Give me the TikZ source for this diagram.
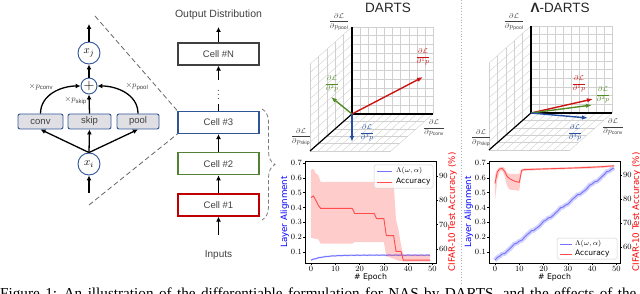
\documentclass[tikz,border=0pt]{standalone}
\usepackage{fontspec}
\setmainfont{Liberation Sans}
\newfontfamily\plotfont{DejaVu Sans}
\newfontfamily\capfont{Liberation Serif}
\usepackage{xcolor}
\definecolor{cellblue}{RGB}{47,85,151}
\definecolor{cellgreen}{RGB}{84,130,53}
\definecolor{cellred}{RGB}{192,0,0}
\definecolor{ink}{RGB}{64,64,64}
\definecolor{opgray}{RGB}{224,224,228}
\definecolor{gridgray}{RGB}{208,208,208}
\definecolor{gradred}{RGB}{204,18,18}
\definecolor{gradgreen}{RGB}{84,140,40}
\definecolor{gradblue}{RGB}{38,78,158}
\definecolor{mplblue}{RGB}{0,0,255}
\definecolor{mplred}{RGB}{255,0,0}
\usepackage{tikz}
\usetikzlibrary{arrows.meta,positioning,calc,decorations.pathreplacing}
\usepackage{pgfplots}
\pgfplotsset{compat=1.18}
\tikzset{
  arr/.style={-{Latex[length=5pt,width=5pt]}, line width=1.3pt, black},
  state/.style={circle, draw=cellblue, line width=0.9pt, fill=white,
    minimum size=22pt, inner sep=0pt, font=\fontsize{11}{12}\selectfont},
  sumnode/.style={circle, draw=cellblue, line width=0.9pt, fill=white,
    minimum size=16pt, inner sep=0pt, font=\fontsize{15}{15}\selectfont},
  opbox/.style={rectangle, rounded corners=2pt, draw=cellblue, line width=0.9pt,
    fill=opgray, minimum height=15pt, inner sep=0pt, text=ink,
    font=\fontsize{9.5}{10}\selectfont},
  wlabel/.style={font=\fontsize{8}{9}\selectfont, inner sep=0pt, text=ink},
  cellbox/.style={rectangle, line width=1.3pt, minimum width=81pt,
    minimum height=22pt, inner sep=0pt, text=ink, font=\fontsize{9.5}{10}\selectfont},
  plain/.style={inner sep=0pt, text=ink, font=\fontsize{10.5}{11}\selectfont},
  zoomline/.style={dash pattern=on 5pt off 3pt, draw=ink!80, line width=0.8pt},
  bracket/.style={decorate, decoration={brace, amplitude=13pt},
    dash pattern=on 4pt off 2.5pt, draw=ink!70, line width=0.8pt},
  gridline/.style={draw=gridgray, line width=0.4pt},
  axisline/.style={draw=black, line width=1.2pt},
  grad/.style={-{Latex[length=6pt,width=4.5pt]}, line width=1.4pt},
  gradlabel/.style={font=\fontsize{7}{8}\selectfont, inner sep=0pt},
  paneltitle/.style={inner sep=0pt, font=\fontsize{13.5}{14}\selectfont, text=black!85},
  sepline/.style={draw=gray!60, dotted, line width=0.8pt},
  legframe/.style={draw=gray!35, fill=white, fill opacity=0.8, rounded corners=1.5pt, line width=0.5pt},
  legtext/.style={inner sep=0pt, anchor=west, font=\plotfont\fontsize{7.5}{8}\selectfont},
  lineblue/.style={mplblue!55, line width=0.9pt},
  linered/.style={mplred!70, line width=0.9pt},
  bandred/.style={fill=mplred, fill opacity=0.2, draw=none},
}
\pgfplotsset{
  alignplot/.style={
    scale only axis, width=131pt, height=102pt,
    xmin=-2.45, xmax=51.45, ymin=0.026, ymax=0.7135,
    xtick={0,10,20,30,40,50},
    ytick={0.1,0.2,0.3,0.4,0.5,0.6,0.7},
    yticklabel style={/pgf/number format/.cd, fixed, precision=1, fixed zerofill},
    xtick pos=left, ytick pos=left,
    tick align=outside, major tick length=2pt,
    tick style={black, line width=0.6pt},
    axis line style={black, line width=0.6pt},
    every tick label/.style={font=\plotfont\fontsize{7.8}{8}\selectfont, inner sep=1pt},
    xlabel={\# Epoch}, ylabel={Layer Alignment},
    every axis x label/.style={at={(axis description cs:0.5,-0.14)}, anchor=center,
      font=\plotfont\fontsize{7.8}{8}\selectfont},
    every axis y label/.style={at={(axis description cs:-0.155,0.5)}, anchor=center,
      rotate=90, text=mplblue, font=\plotfont\fontsize{8.7}{9}\selectfont},
  },
  accplot/.style={
    scale only axis, width=131pt, height=102pt,
    xmin=-2.45, xmax=51.45,
    axis x line=none, axis y line*=right,
    ytick={60,70,80,90},
    tick align=outside, major tick length=2pt,
    tick style={black, line width=0.6pt},
    axis line style={black, line width=0.6pt},
    every tick label/.style={font=\plotfont\fontsize{7.8}{8}\selectfont, inner sep=1pt},
    ylabel={CIFAR-10 Test Accuracy (\%)},
    every axis y label/.style={at={(axis description cs:1.125,0.5)}, anchor=center,
      rotate=90, text=mplred, font=\plotfont\fontsize{8.7}{9}\selectfont},
  },
}
\newcommand{\gradfrac}[1]{$\displaystyle\frac{\partial\mathcal{L}}{\partial #1}$}
\newcommand{\gradframe}{%
  \foreach \i in {0,...,10}{
    \draw[gridline] (\i*8.1,0) -- (\i*8.1,-87);
    \draw[gridline] (0,-\i*8.7) -- (81,-\i*8.7);
    \draw[gridline] (0,-\i*8.7) -- ++(-42,37);
    \draw[gridline] (\i*8.1,0) -- ++(-42,37);
  }
  \foreach \k in {1,...,5}{
    \draw[gridline] (-\k*8.4,\k*7.4) -- ++(0,-87);
    \draw[gridline] (-\k*8.4,\k*7.4) -- ++(81,0);
  }
  \draw[axisline] (0,-87) -- (0,0) -- (81,0);
  \draw[axisline] (0,0) -- (-42,37);
}

\begin{document}
\begin{tikzpicture}
  \path[use as bounding box, clip] (0pt,0pt) rectangle (640pt,-294pt);
  \begin{scope}[x=1pt,y=-1pt]
  %% one cell: mixed operation between x_i and x_j
  \node[state] (xi) at (89,164) {$x_i$};
  \node[state] (xj) at (89,53) {$x_j$};
  \node[sumnode] (sum) at (89,86) {$+$};
  \node[opbox, minimum width=45pt] (conv) at (40.5,121.5) {conv};
  \node[opbox, minimum width=43pt] (skip) at (89.5,121.5) {skip};
  \node[opbox, minimum width=42pt] (pool) at (138,121.5) {pool};
  \coordinate (cellin) at (89,193);
  \coordinate (cellout) at (89,24);
  \draw[arr] (cellin) -- (xi);
  \draw[arr] (xi.north) -- (conv.south);
  \draw[arr] (xi.north) -- (skip.south);
  \draw[arr] (xi.north) -- (pool.south);
  \draw[arr] (conv.north) to[out=90,in=180] (sum.west);
  \draw[arr] (skip.north) -- (sum.south);
  \draw[arr] (pool.north) to[out=90,in=0] (sum.east);
  \draw[arr] (sum.north) -- (xj.south);
  \draw[arr] (xj.north) -- (cellout);
  \node[wlabel] (wconv) at (41,87) {$\times p_{\mathrm{conv}}$};
  \node[wlabel, anchor=east] (wskip) at (87,101) {$\times p_{\mathrm{skip}}$};
  \node[wlabel] (wpool) at (137,87) {$\times p_{\mathrm{pool}}$};

  %% stack of cells
  \node[cellbox, draw=cellred] (cell1) at (218.5,205) {Cell \#1};
  \node[cellbox, draw=cellgreen, above=18pt of cell1] (cell2) {Cell \#2};
  \node[cellbox, draw=cellblue, above=18pt of cell2] (cell3) {Cell \#3};
  \node[inner sep=0pt, minimum height=24pt, text=ink] (dots) at (218.5,92) {$\vdots$};
  \node[cellbox, draw=ink] (celln) at (218.5,54) {Cell \#N};
  \node[plain] (outd) at (218.5,15) {Output Distribution};
  \node[plain, font=\fontsize{10}{11}\selectfont] (inputs) at (218.5,255) {Inputs};
  \coordinate (netin) at (218.5,235);
  \coordinate (netout) at (218.5,27);
  \draw[arr] (netin) -- (cell1);
  \draw[arr] (cell1) -- (cell2);
  \draw[arr] (cell2) -- (cell3);
  \draw[line width=1.3pt] (cell3.north) -- (dots.south);
  \draw[arr] (dots.north) -- (celln.south);
  \draw[arr] (celln.north) -- (netout);
  \coordinate (zoomtop) at (95,16);
  \coordinate (zoombot) at (89,205);
  \draw[zoomline] (zoomtop) -- (cell3.north west);
  \draw[zoomline] (zoombot) -- (cell3.south west);
  \coordinate (bracetop) at (262,109);
  \coordinate (bracebot) at (262,220);
  \draw[bracket] (bracetop) -- (bracebot);

  %% gradient directions
  \node[paneltitle] (tdarts) at (388,8) {DARTS};
  \node[paneltitle] (tlambda) at (560,8) {\textbf{Λ}-DARTS};
  \draw[sepline] (461,0) -- (461,283);
  \begin{scope}[shift={(352,114)}]
    \gradframe
    \coordinate (dO) at (0,0);
    \coordinate (dR) at (71,-37);
    \coordinate (dG) at (-21,-17);
    \coordinate (dB) at (0,28);
    \draw[grad, gradred] (dO) -- (dR);
    \draw[grad, gradgreen] (dO) -- (dG);
    \draw[grad, gradblue] (dO) -- (dB);
    \node[gradlabel, text=gradred] (dRl) at (71,-57) {\gradfrac{^{1}p}};
    \node[gradlabel, text=gradgreen] (dGl) at (-20,-30) {\gradfrac{^{2}p}};
    \node[gradlabel, text=gradblue] (dBl) at (15,19) {\gradfrac{^{3}p}};
    \node[gradlabel, text=ink] (dpool) at (-13,-92) {\gradfrac{p_{\mathrm{pool}}}};
    \node[gradlabel, text=ink] (dconv) at (82,14) {\gradfrac{p_{\mathrm{conv}}}};
    \node[gradlabel, text=ink] (dskip) at (-51,23) {\gradfrac{p_{\mathrm{skip}}}};
  \end{scope}
  \begin{scope}[shift={(531,113)}]
    \gradframe
    \coordinate (lO) at (0,0);
    \coordinate (lR) at (62,-14);
    \coordinate (lG) at (61,-8);
    \coordinate (lB) at (57,5);
    \draw[grad, gradred] (lO) -- (lR);
    \draw[grad, gradgreen] (lO) -- (lG);
    \draw[grad, gradblue] (lO) -- (lB);
    \node[gradlabel, text=gradred] (lRl) at (48,-29) {\gradfrac{^{1}p}};
    \node[gradlabel, text=gradgreen] (lGl) at (72,-18) {\gradfrac{^{2}p}};
    \node[gradlabel, text=gradblue] (lBl) at (44,20) {\gradfrac{^{3}p}};
    \node[gradlabel, text=ink] (lpool) at (-17,-91) {\gradfrac{p_{\mathrm{pool}}}};
    \node[gradlabel, text=ink] (lconv) at (82,14) {\gradfrac{p_{\mathrm{conv}}}};
    \node[gradlabel, text=ink] (lskip) at (-50,25) {\gradfrac{p_{\mathrm{skip}}}};
  \end{scope}
  \end{scope}

  %% layer alignment and accuracy, DARTS
  \begin{axis}[alignplot, at={(305pt,-263pt)}, anchor=south west]
    \addplot[mplblue, draw opacity=0.18, line width=1.6pt, domain=0:49, samples=50]
      {0.079-0.034*exp(-x/5)+0.0015*sin(137*x)};
    \addplot[lineblue, domain=0:49, samples=50]
      {0.079-0.034*exp(-x/5)+0.0015*sin(137*x)};
  \end{axis}
  \begin{axis}[accplot, at={(305pt,-263pt)}, anchor=south west, ymin=54.2, ymax=96.2]
    \addplot[bandred] coordinates {(0,92.5) (1,93) (2,91) (3,90.5) (4,87.6)
      (34,87.6) (35,72) (36,68) (37,62) (38,57.5) (49,57.5) (49,54.8) (38,54.8)
      (37,55) (36,55.2) (35,55.5) (34,56) (31,57) (30,62.8) (18,62.8) (17,62.2)
      (4,62.2) (3,64) (0,64.5)};
    \addplot[linered] coordinates {(0,81.2) (1,81.8) (2,80) (3,78) (4,76.7)
      (17,76.7) (18,74.6) (26,74.6) (27,72.5) (30,72.5) (31,65.5) (34,65.5)
      (35,59) (37,59) (38,55.4) (49,55.4)};
  \end{axis}

  %% layer alignment and accuracy, Lambda-DARTS
  \begin{axis}[alignplot, at={(489pt,-263pt)}, anchor=south west]
    \addplot[mplblue, draw opacity=0.18, line width=4.5pt, domain=0:49, samples=50]
      {0.045+0.0128*x+0.005*sin(57*x)+0.003*sin(151*x)};
    \addplot[lineblue, domain=0:49, samples=50]
      {0.045+0.0128*x+0.005*sin(57*x)+0.003*sin(151*x)};
  \end{axis}
  \begin{axis}[accplot, at={(489pt,-263pt)}, anchor=south west, ymin=53.4, ymax=95.9]
    \addplot[bandred] coordinates {(0,90) (1,92.5) (2,93.3) (3,93.6) (4,93)
      (5,91) (6,90.5) (10,90.5) (11,92.6) (12,92.8) (20,93) (30,93.3) (40,93.8)
      (45,94) (49,94.3) (49,93.5) (45,93.1) (40,92.8) (30,92.5) (20,92.2)
      (12,91.8) (11,91.4) (10,83.5) (6,84) (5,85.5) (4,89.5) (3,92) (2,91.5)
      (1,88) (0,79.5)};
    \addplot[linered] coordinates {(0,86.5) (1,91.5) (2,92.6) (3,92.8) (4,91.5)
      (5,89.5) (6,88.6) (8,87.5) (10,87) (11,92) (12,92.3) (20,92.6) (30,92.9)
      (40,93.3) (45,93.6) (49,93.9)};
  \end{axis}

  \begin{scope}[x=1pt,y=-1pt]
  %% legends
  \draw[legframe] (374,165) rectangle (433,188);
  \draw[lineblue] (377,171) -- (392,171);
  \draw[linered] (377,182) -- (392,182);
  \node[legtext] (dleg1) at (396,171) {$\Lambda(\omega,\alpha)$};
  \node[legtext] (dleg2) at (396,182) {Accuracy};
  \draw[legframe] (557,238) rectangle (617,259);
  \draw[lineblue] (560,244) -- (572,244);
  \draw[linered] (560,254) -- (572,254);
  \node[legtext] (lleg1) at (575,244) {$\Lambda(\omega,\alpha)$};
  \node[legtext] (lleg2) at (575,254) {Accuracy};
  %% caption, cut by the lower edge
  \node[anchor=base west, inner sep=0pt, font=\capfont\fontsize{15.2}{16}\selectfont]
    (caption) at (0,298.7) {\spaceskip=5.4pt\relax Figure 1: An illustration of the differentiable formulation for NAS by DARTS, and the effects of the};
  \end{scope}
\end{tikzpicture}
\end{document}
